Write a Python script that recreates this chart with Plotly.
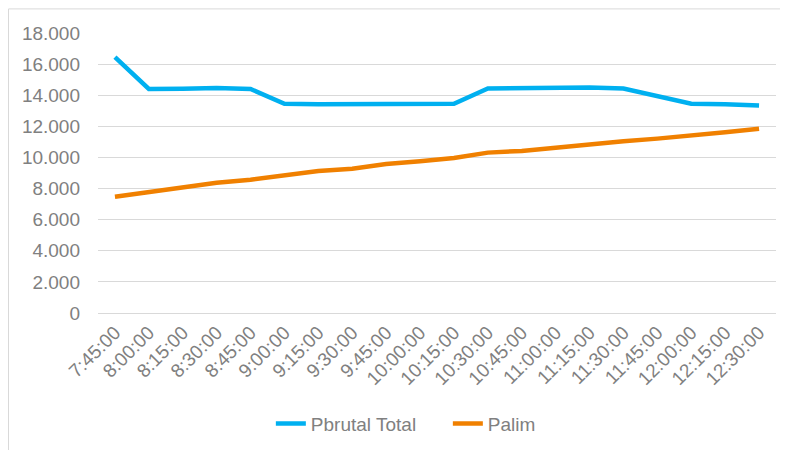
import plotly.graph_objects as go

categories = ["7:45:00", "8:00:00", "8:15:00", "8:30:00", "8:45:00", "9:00:00", "9:15:00",
              "9:30:00", "9:45:00", "10:00:00", "10:15:00", "10:30:00", "10:45:00", "11:00:00",
              "11:15:00", "11:30:00", "11:45:00", "12:00:00", "12:15:00", "12:30:00"]

pbrutal_total = [16450, 14400, 14420, 14460, 14400, 13450, 13420, 13440, 13450, 13480,
                 13450, 14430, 14450, 14470, 14490, 14430, 13940, 13450, 13420, 13340]

palim = [7470, 7750, 8050, 8370, 8570, 8870, 9130, 9280, 9580, 9750,
         9960, 10310, 10420, 10630, 10850, 11040, 11210, 11380, 11620, 11850]

y_ticks = [0, 2000, 4000, 6000, 8000, 10000, 12000, 14000, 16000, 18000]

font_family = "Liberation Sans, Arial, sans-serif"
text_gray = "#808080"
grid_gray = "#d9d9d9"

fig = go.Figure()
fig.add_trace(go.Scatter(x=categories, y=pbrutal_total, mode="lines", name="Pbrutal Total",
                         line=dict(color="#00B0F0", width=4.5)))
fig.add_trace(go.Scatter(x=categories, y=palim, mode="lines", name="Palim",
                         line=dict(color="#F08000", width=4.5)))

fig.update_layout(
    width=780, height=442,
    margin=dict(l=90, r=12, t=25, b=137, autoexpand=False),
    paper_bgcolor="white", plot_bgcolor="white",
    separators=",.",
    font=dict(family=font_family, size=19, color=text_gray),
    showlegend=True,
    legend=dict(orientation="h", x=0.516, xanchor="center", y=-0.395, yanchor="middle",
                font=dict(size=19, color=text_gray), entrywidth=132, entrywidthmode="pixels",
                tracegroupgap=0),
    xaxis=dict(type="category", range=[-0.5, 19.5], tickangle=-45, showgrid=False,
               showline=True, linecolor=grid_gray, linewidth=1, ticks="", automargin=False,
               tickfont=dict(size=19, color=text_gray)),
    yaxis=dict(range=[0, 18000], tickvals=y_ticks, tickformat=",d", showgrid=True,
               gridcolor=grid_gray, gridwidth=1, zeroline=True, zerolinecolor=grid_gray,
               zerolinewidth=1, showline=False, ticks="", ticklabelstandoff=17, automargin=False,
               tickfont=dict(size=19, color=text_gray)),
    shapes=[dict(type="rect", xref="paper", yref="paper", x0=-0.1320, x1=1.1, y0=-0.65, y1=1.086,
                 line=dict(color="#d9d9d9", width=1), fillcolor="rgba(0,0,0,0)", layer="below")],
)

fig.write_html("out.html")
